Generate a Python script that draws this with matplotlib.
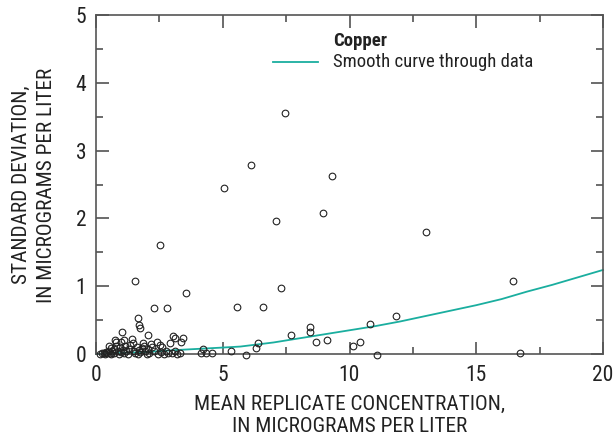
import matplotlib
matplotlib.use("Agg")
import matplotlib.pyplot as plt
from matplotlib.ticker import MultipleLocator
from matplotlib import font_manager

ttf = font_manager.fontManager.ttflist
names = {f.name for f in ttf}
FONT = 'DejaVu Sans'
STRETCH = 'normal'
for cand in ['Liberation Sans Narrow', 'Roboto Condensed', 'Open Sans Condensed',
             'DejaVu Sans Condensed', 'Noto Sans Condensed']:
    if cand in names:
        FONT = cand
        break
else:
    for f in ttf:
        if f.name == 'DejaVu Sans' and str(f.stretch) in ('condensed', '300', 'semi-condensed'):
            STRETCH = 'condensed'
            break
plt.rcParams['font.family'] = [FONT, 'DejaVu Sans']
plt.rcParams['font.stretch'] = STRETCH

# Scatter data (mean replicate concentration, standard deviation)
mean_conc = [7.46, 6.11, 5.05, 9.31, 7.10, 8.95, 13.02, 2.52, 1.54, 7.28, 3.55, 16.45,
             2.27, 2.80, 5.58, 6.57, 1.66, 1.70, 1.74, 1.03, 8.44, 8.44, 8.67, 9.10,
             10.12, 10.41, 10.80, 11.08, 11.83, 16.73, 7.69, 6.31, 6.39, 5.92, 5.33,
             4.22, 4.14, 4.34, 4.58, 3.43, 3.35, 3.04, 3.12, 2.05,
             0.15, 0.25, 0.30, 0.35, 0.40, 0.45, 0.50, 0.55, 0.60, 0.65, 0.70, 0.70,
             0.75, 0.80, 0.78, 0.85, 0.90, 0.95, 1.00, 1.05, 1.10, 1.15, 1.20, 1.25,
             1.30, 1.34, 1.42, 1.46, 1.50, 1.55, 1.60, 1.65, 1.70, 1.75, 1.85, 1.80,
             1.90, 1.95, 2.00, 2.05, 2.10, 2.20, 2.30, 2.40, 2.45, 2.52, 2.55, 2.60,
             2.70, 2.75, 2.85, 2.92, 3.00, 3.10, 3.20, 3.30, 0.50, 0.60, 1.00, 1.10, 2.15]
std_dev = [3.56, 2.79, 2.45, 2.63, 1.96, 2.08, 1.80, 1.61, 1.08, 0.97, 0.90, 1.08,
           0.68, 0.68, 0.69, 0.69, 0.53, 0.43, 0.38, 0.33, 0.40, 0.32, 0.18, 0.21,
           0.12, 0.18, 0.44, -0.01, 0.56, 0.01, 0.28, 0.09, 0.16, -0.01, 0.04,
           0.07, 0.01, 0.01, 0.01, 0.23, 0.18, 0.27, 0.23, 0.28,
           0.00, 0.01, 0.02, 0.00, 0.03, 0.01, 0.05, 0.02, 0.00, 0.04, 0.08, 0.01,
           0.20, 0.17, 0.12, 0.05, 0.00, 0.10, 0.03, 0.06, 0.01, 0.12, 0.04, 0.00,
           0.08, 0.13, 0.22, 0.16, 0.05, 0.02, 0.10, 0.00, 0.06, 0.03, 0.16, 0.09,
           0.12, 0.04, 0.00, 0.07, 0.02, 0.10, 0.05, 0.18, 0.00, 0.13, 0.03, 0.10,
           0.00, 0.05, 0.01, 0.16, 0.02, 0.04, 0.00, 0.01, 0.12, 0.09, 0.18, 0.20, 0.15]

# Smooth curve
curve_x = [0, 1, 2, 3, 4, 5, 5.7, 7, 8, 9, 10, 11, 12, 13, 14, 15, 16, 17, 18, 19, 20]
curve_y = [0.0, 0.015, 0.03, 0.055, 0.075, 0.095, 0.11, 0.17, 0.23, 0.29, 0.35, 0.41,
           0.48, 0.56, 0.64, 0.72, 0.81, 0.92, 1.02, 1.13, 1.24]

W, H = 613, 437
fig = plt.figure(figsize=(W/100, H/100), dpi=100)
ax = fig.add_axes([96/W, 1 - 354/H, (603-96)/W, (354-15)/H])

ax.plot(curve_x, curve_y, color='#1aae9f', lw=1.3, zorder=2)
ax.plot(mean_conc, std_dev, linestyle='none', marker='o', markersize=4.8,
        markerfacecolor='none', markeredgecolor='#222222', markeredgewidth=0.8, zorder=3)

ax.set_xlim(0, 20)
ax.set_ylim(0, 5)
ax.xaxis.set_major_locator(MultipleLocator(5))
ax.xaxis.set_minor_locator(MultipleLocator(2.5))
ax.yaxis.set_major_locator(MultipleLocator(1))
ax.yaxis.set_minor_locator(MultipleLocator(0.5))
ax.tick_params(which='both', direction='in', top=True, right=True, color='#444444',
               width=1.1, labelcolor='#222222')
ax.tick_params(which='major', length=9, labelsize=15.5)
ax.tick_params(axis='x', which='major', pad=8)
ax.tick_params(axis='y', which='major', pad=7)
ax.tick_params(which='minor', length=5)
for s in ax.spines.values():
    s.set_color('#555555')
    s.set_linewidth(1.2)
for ln in ax.lines:
    ln.set_clip_on(False)

fig.text(349.5/W, 1 - 404/H, 'MEAN REPLICATE CONCENTRATION,', fontsize=15.3,
         ha='center', va='center', color='#222222')
fig.text(349.5/W, 1 - 426/H, 'IN MICROGRAMS PER LITER', fontsize=15.3,
         ha='center', va='center', color='#222222')
fig.text(21/W, 1 - 185/H, 'STANDARD DEVIATION,', fontsize=15.3, rotation=90,
         ha='center', va='center', color='#222222')
fig.text(47/W, 1 - 185/H, 'IN MICROGRAMS PER LITER', fontsize=15.3, rotation=90,
         ha='center', va='center', color='#222222')

fig.text(333/W, 1 - 41/H, 'Copper', fontsize=13.5, fontweight='bold',
         va='center', ha='left', color='#222222')
fig.add_artist(plt.Line2D([273/W, 318/W], [1 - 62/H, 1 - 62/H], transform=fig.transFigure,
                          color='#1aae9f', lw=1.3))
fig.text(333/W, 1 - 62/H, 'Smooth curve through data', fontsize=13.5,
         va='center', ha='left', color='#222222')

fig.savefig('out.png', dpi=100)
